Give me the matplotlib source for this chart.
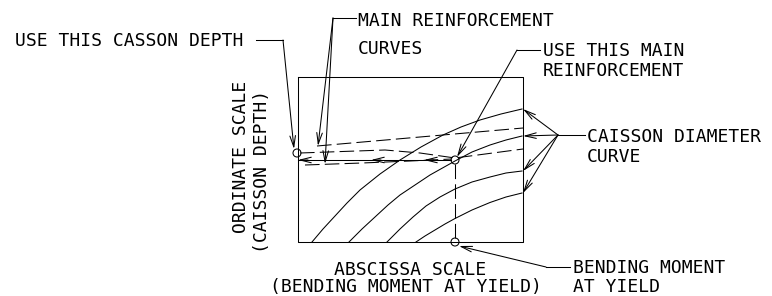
import matplotlib.pyplot as plt
from matplotlib.patches import Circle

# drawing space is in pixels, y going down
W, H = 772, 296

# chart frame
box_x = [298, 523, 523, 298, 298]
box_y = [77, 77, 242, 242, 77]

# caisson diameter curves (solid)
dia1_x = [312, 323, 335, 347, 360, 380, 400, 421, 443, 461, 480, 501, 522]
dia1_y = [242, 229, 216, 203, 190, 174, 160, 147, 135, 127, 120, 114, 109]
dia2_x = [349, 362, 375, 388, 400, 415, 430, 455, 472, 490, 506, 522]
dia2_y = [242, 229, 217, 205, 195, 185, 175, 161, 152, 145, 140, 136]
dia3_x = [387, 400, 413, 426, 440, 455, 472, 490, 506, 522]
dia3_y = [242, 229, 217, 206, 197, 189, 182, 177, 173, 171]
dia4_x = [416, 425, 435, 445, 455, 472, 490, 506, 522]
dia4_y = [242, 236, 230, 224, 218.5, 210, 202.5, 197, 193]

# main reinforcement curves (dashed)
main1_x = [317, 523]
main1_y = [146, 128]
main2_x = [300, 385, 420, 455, 523]
main2_y = [153, 150, 153, 158, 149]
main3_x = [305, 362, 410, 452]
main3_y = [165, 163, 161, 159]

# picked point and read-offs
pick_x, pick_y = 455, 160
depth_x, depth_y = 297, 153
moment_x, moment_y = 455, 242
ends_y = [109, 136, 171, 193]

LW = 0.75
font = dict(family='DejaVu Sans Mono', fontsize=13, color='black')

fig = plt.figure(figsize=(7.72, 2.96), dpi=100)
ax = fig.add_axes([0, 0, 1, 1])
ax.set_xlim(0, W)
ax.set_ylim(H, 0)
ax.axis('off')


def arrow(tail, tip):
    ax.annotate('', xy=tip, xytext=tail,
                arrowprops=dict(arrowstyle='->,head_length=0.8,head_width=0.2',
                                lw=LW, color='k', shrinkA=0, shrinkB=0,
                                mutation_scale=10))


def line(xs, ys, **kw):
    ax.plot(xs, ys, color='k', lw=LW, **kw)


line(box_x, box_y)
for xs, ys in [(dia1_x, dia1_y), (dia2_x, dia2_y), (dia3_x, dia3_y), (dia4_x, dia4_y)]:
    line(xs, ys, solid_joinstyle='round')

dash = (0, (14, 5))
for xs, ys in [(main1_x, main1_y), (main2_x, main2_y), (main3_x, main3_y)]:
    line(xs, ys, linestyle=dash)

# read-off lines
line([box_x[0], pick_x - 4], [pick_y, pick_y])
line([pick_x, pick_x], [pick_y + 4, moment_y - 4], linestyle=dash)
for x0 in [box_x[0], 371, 424]:
    arrow((x0 + 10, pick_y), (x0, pick_y))

for cx, cy in [(pick_x, pick_y), (depth_x, depth_y), (moment_x, moment_y)]:
    ax.add_patch(Circle((cx, cy), 4, fill=False, lw=LW, color='k'))

# labels and leaders
ax.text(15, 46, 'USE THIS CASSON DEPTH', **font)
line([256, 283], [40, 40])
arrow((283, 40), (294, 149))

ax.text(358, 26, 'MAIN REINFORCEMENT', **font)
ax.text(358, 54, 'CURVES', **font)
line([356, 333], [18, 18])
arrow((333, 18), (318, 146))
arrow((333, 18), (325, 164))

ax.text(543, 56, 'USE THIS MAIN', **font)
ax.text(543, 76, 'REINFORCEMENT', **font)
line([540, 517], [50, 50])
arrow((517, 50), (457, 157))

ax.text(587, 142, 'CAISSON DIAMETER', **font)
ax.text(587, 162, 'CURVE', **font)
line([585, 558], [135, 135])
for ey in ends_y:
    arrow((558, 135), (523, ey))

ax.text(573, 273, 'BENDING MOMENT', **font)
ax.text(573, 292, 'AT YIELD', **font)
line([570, 546], [267, 267])
arrow((546, 267), (459, 246))

ax.text(410, 275, 'ABSCISSA SCALE', ha='center', **font)
ax.text(406, 292, '(BENDING MOMENT AT YIELD)', ha='center', **font)

ax.text(246, 157, 'ORDINATE SCALE', rotation=90, rotation_mode='anchor',
        ha='center', va='baseline', **font)
ax.text(267, 171, '(CAISSON DEPTH)', rotation=90, rotation_mode='anchor',
        ha='center', va='baseline', **font)

fig.savefig('out.png', dpi=100)
